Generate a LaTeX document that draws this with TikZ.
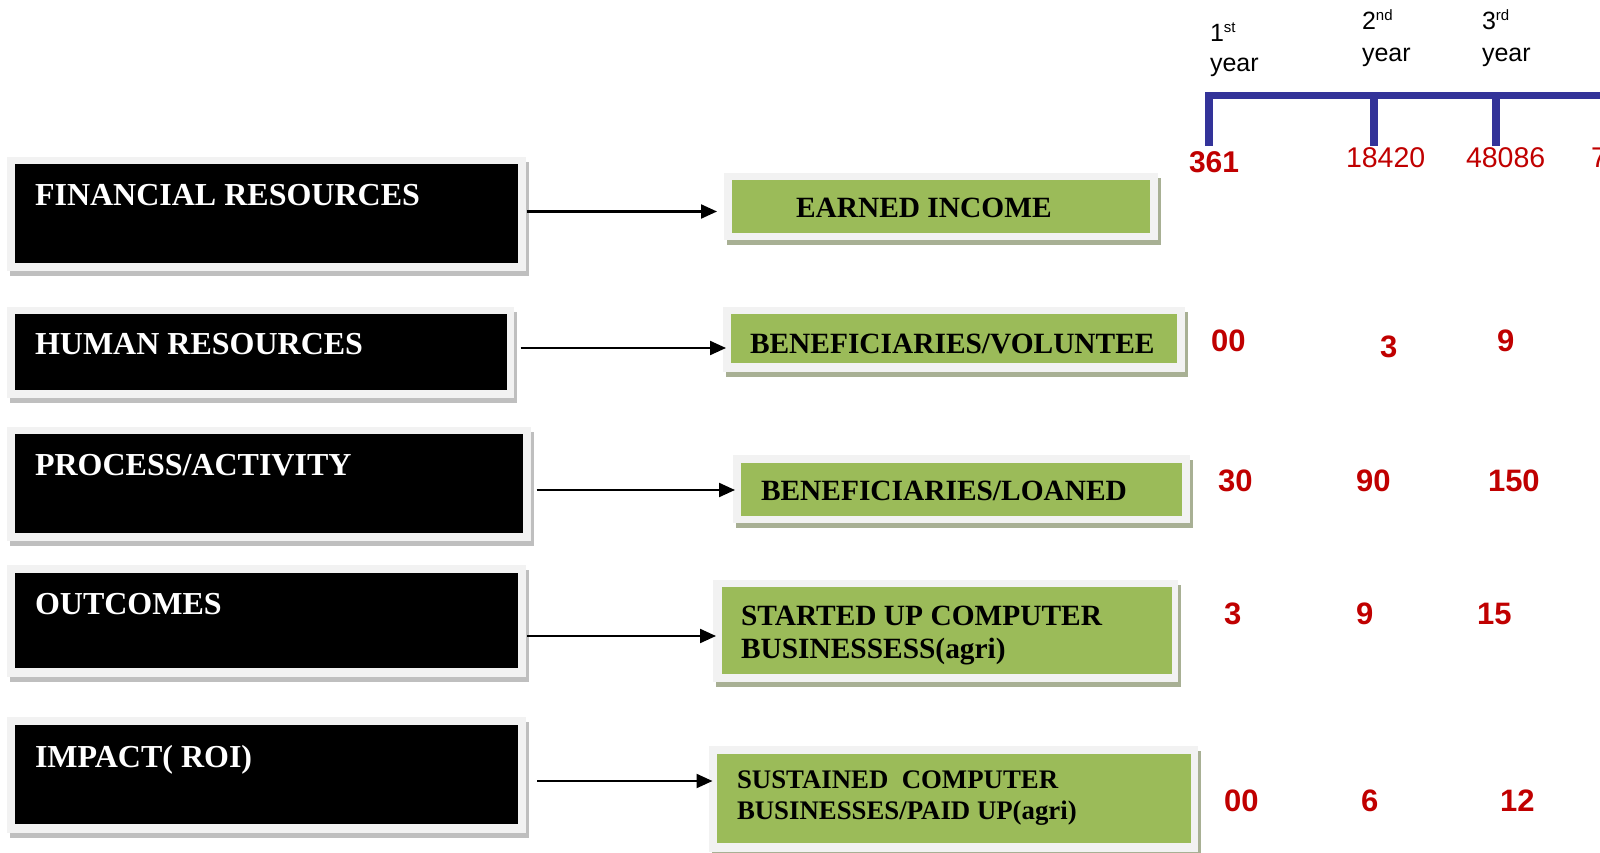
\documentclass[tikz,border=0pt]{standalone}
\usepackage{fontspec}
\setmainfont{Liberation Serif}
\newfontfamily\arialf{Liberation Sans}
\usetikzlibrary{shadows,arrows.meta}
\definecolor{frameGray}{HTML}{F2F2F2}
\definecolor{shGray}{HTML}{BFBFBF}
\definecolor{shGreen}{RGB}{168,176,148}
\definecolor{boxGreen}{HTML}{9BBB59}
\definecolor{numRed}{HTML}{C00000}
\definecolor{tlBlue}{RGB}{51,51,153}
\newcommand\supsmall[1]{\raisebox{9pt}{\fontsize{15}{15}\selectfont #1}}
\begin{document}
\begin{tikzpicture}[x=1pt,y=-1pt,
  every node/.style={inner sep=0pt, outer sep=0pt},
  lframe/.style 2 args={rectangle, fill=frameGray, anchor=north west,
     minimum width=#1pt, minimum height=#2pt,
     drop shadow={shadow xshift=3pt, shadow yshift=-5pt, fill=shGray, opacity=1}},
  gframe/.style 2 args={rectangle, fill=frameGray, anchor=north west,
     minimum width=#1pt, minimum height=#2pt,
     drop shadow={shadow xshift=3pt, shadow yshift=-5pt, fill=shGreen, opacity=1}},
  blackin/.style 2 args={rectangle, fill=black, anchor=north west,
     minimum width=#1pt, minimum height=#2pt},
  greenin/.style 2 args={rectangle, fill=boxGreen, anchor=north west,
     minimum width=#1pt, minimum height=#2pt},
  ltext/.style={anchor=base west, text=white, font=\fontsize{32}{36}\selectfont\bfseries},
  gtext/.style={anchor=base west, text=black, font=\fontsize{29.4}{33}\selectfont\bfseries},
  gtextsm/.style={anchor=base west, text=black, font=\fontsize{26.8}{30}\selectfont\bfseries},
  arr/.style={line width=2.2pt, -{Triangle[length=16pt,width=14pt]}},
  yr/.style={anchor=base west, text=black, font=\arialf\fontsize{25}{28}\selectfont},
  numb/.style={anchor=base west, text=numRed, font=\arialf\fontsize{31}{34}\selectfont\bfseries},
  numtop/.style={anchor=base west, text=numRed, font=\arialf\fontsize{28.5}{32}\selectfont},
  tl/.style={draw=tlBlue, line width=7.5pt}
]
\useasboundingbox (0,0) rectangle (1600,853);
\fill[white] (0,0) rectangle (1600,853);

% left boxes
\node[lframe={519}{114}] (fF) at (7,157) {};
\node[blackin={503}{99}] (bF) at (15,164) {};
\node[ltext] (tF) at (35,205) {FINANCIAL RESOURCES};

\node[lframe={507}{91}] (fH) at (7,307) {};
\node[blackin={492}{76}] (bH) at (15,314) {};
\node[ltext] (tH) at (35,354) {HUMAN RESOURCES};

\node[lframe={524}{114}] (fP) at (7,427) {};
\node[blackin={508}{99}] (bP) at (15,434) {};
\node[ltext] (tP) at (35,475) {PROCESS/ACTIVITY};

\node[lframe={519}{112}] (fO) at (7,565) {};
\node[blackin={503}{95}] (bO) at (15,573) {};
\node[ltext] (tO) at (35,614) {OUTCOMES};

\node[lframe={519}{116}] (fI) at (7,717) {};
\node[blackin={503}{99}] (bI) at (15,725) {};
\node[ltext] (tI) at (35,767) {IMPACT( ROI)};

% green boxes
\node[gframe={434}{67}] (gE) at (724,173) {};
\node[greenin={418}{53}] (iE) at (732,180) {};
\node[gtext] (tE) at (796,217) {EARNED INCOME};

\node[gframe={462}{65}] (gV) at (723,307) {};
\node[greenin={446}{49}] (iV) at (731,314) {};
\node[gtext] (tV) at (750,353) {BENEFICIARIES/VOLUNTEE};

\node[gframe={457}{68}] (gL) at (733,455) {};
\node[greenin={441}{53}] (iL) at (741,463) {};
\node[gtext] (tL) at (761,500) {BENEFICIARIES/LOANED};

\node[gframe={465}{102}] (gS) at (713,580) {};
\node[greenin={450}{87}] (iS) at (722,587) {};
\node[gtext] (tSa) at (741,625) {STARTED UP COMPUTER};
\node[gtext] (tSb) at (741,658) {BUSINESSESS(agri)};

\node[gframe={489}{106}] (gC) at (709,746) {};
\node[greenin={474}{89}] (iC) at (717,754) {};
\node[gtextsm] (tCa) at (737,788) {SUSTAINED\ \ COMPUTER};
\node[gtextsm] (tCb) at (737,819) {BUSINESSES/PAID UP(agri)};

% arrows
\coordinate (r1) at (0,211.5);
\coordinate (r2) at (0,348);
\coordinate (r3) at (0,490);
\coordinate (r4) at (0,636);
\coordinate (r5) at (0,781);
\draw[arr, shorten <=0.5pt, shorten >=7pt] (fF.east |- r1) -- (gE.west |- r1);
\draw[arr, shorten <=6.5pt, shorten >=-3pt] (fH.east |- r2) -- (gV.west |- r2);
\draw[arr, shorten <=5.5pt, shorten >=-2pt] (fP.east |- r3) -- (gL.west |- r3);
\draw[arr, shorten <=1pt, shorten >=-3pt] (fO.east |- r4) -- (gS.west |- r4);
\draw[arr, shorten <=11pt, shorten >=-3.5pt] (fI.east |- r5) -- (gC.west |- r5);

% timeline
\draw[tl] (1205,95.5) -- (1620,95.5);
\draw[tl] (1209,95) -- (1209,146);
\draw[tl] (1374,95) -- (1374,146);
\draw[tl] (1496,95) -- (1496,146);

\node[yr] (y1a) at (1210,42) {1\supsmall{st}};
\node[yr] (y1b) at (1210,72) {year};
\node[yr] (y2a) at (1362,30) {2\supsmall{nd}};
\node[yr] (y2b) at (1362,62) {year};
\node[yr] (y3a) at (1482,30) {3\supsmall{rd}};
\node[yr] (y3b) at (1482,62) {year};

% numbers
\node[numb, font=\arialf\fontsize{30}{33}\selectfont\bfseries] (n11) at (1189,173) {361};
\node[numtop] (n12) at (1346,168) {18420};
\node[numtop] (n13) at (1466,168) {48086};
\node[numtop] (n14) at (1591,168) {7};

\node[numb] (n21) at (1211,351) {00};
\node[numb] (n22) at (1380,357) {3};
\node[numb] (n23) at (1497,351) {9};

\node[numb] (n31) at (1218,491.5) {30};
\node[numb] (n32) at (1356,491.5) {90};
\node[numb] (n33) at (1488,491.5) {150};

\node[numb] (n41) at (1224,624.5) {3};
\node[numb] (n42) at (1356,624.5) {9};
\node[numb] (n43) at (1477,624.5) {15};

\node[numb] (n51) at (1224,811.5) {00};
\node[numb] (n52) at (1361,811.5) {6};
\node[numb] (n53) at (1500,811.5) {12};
\end{tikzpicture}
\end{document}
